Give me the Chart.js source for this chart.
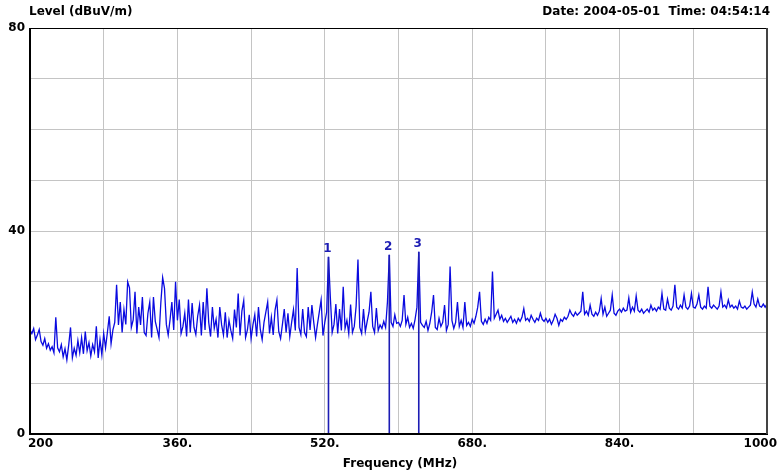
<!DOCTYPE html>
<html>
<head>
<meta charset="utf-8">
<script src="https://cdn.jsdelivr.net/npm/chart.js@4/dist/chart.umd.min.js"></script>
<style>
html,body{margin:0;padding:0;background:#fff;}
canvas{display:block;}
</style>
</head>
<body>
<canvas id="c" width="778" height="473"></canvas>
<script>
// Sweep definition (MHz)
const freqStart = 200;
const freqStep = 2;
// Measured level (dBuV/m), one value per 2 MHz from 200 to 1000 MHz
const levels = [
20.5,19.8,20.8,18.6,19.5,20.6,18.2,17.5,18.8,16.9,
17.8,16.5,17.2,16.0,23.0,17.0,16.2,17.6,15.2,16.8,
14.6,17.5,21.0,15.0,16.9,15.5,18.4,16.0,19.0,15.8,
20.2,16.4,18.0,15.4,17.6,16.2,21.2,15.0,18.6,15.6,
19.8,17.0,20.0,23.2,17.8,20.5,22.0,29.4,21.5,26.0,
20.0,24.5,21.6,30.0,28.8,21.0,22.5,28.0,19.8,25.0,
21.5,27.0,20.0,19.4,23.8,26.0,19.0,27.0,22.2,20.6,
19.0,25.8,30.8,28.7,21.6,19.5,22.5,26.0,20.5,30.0,
22.4,26.5,19.8,21.2,23.8,19.2,26.5,20.0,25.8,21.0,
19.6,23.2,25.4,19.4,26.0,20.5,28.7,22.0,19.2,25.0,
20.8,22.6,19.0,25.0,21.5,19.5,24.0,19.0,22.4,20.4,
18.8,24.5,21.0,27.7,19.4,24.2,26.3,19.0,20.5,23.5,
18.8,21.5,23.5,19.2,25.0,20.6,18.6,22.0,24.0,26.0,
19.8,23.0,19.5,24.4,26.4,20.2,18.8,21.6,24.6,20.0,
23.8,19.2,22.0,24.5,20.4,32.7,21.0,19.6,24.6,20.0,
19.2,25.0,20.5,25.4,22.0,19.0,21.6,24.0,26.4,19.4,
22.0,24.0,34.9,27.0,20.0,21.6,25.6,19.8,24.6,20.4,
29.0,20.8,22.4,19.8,25.5,20.0,21.2,25.2,34.4,21.0,
19.8,24.6,20.2,22.2,24.0,28.0,21.2,20.0,24.8,20.4,
21.5,20.8,22.2,21.0,26.0,35.3,22.0,21.2,23.5,21.8,
22.0,21.2,22.4,27.4,21.6,23.0,21.0,21.8,20.8,22.6,
25.0,35.9,22.0,21.4,21.0,22.2,20.4,21.8,24.0,27.4,
21.0,20.6,22.8,21.2,22.0,25.4,20.4,21.6,33.0,22.4,
20.8,22.0,26.0,21.2,22.4,21.0,26.0,21.4,22.0,21.2,
22.6,21.8,23.2,25.0,28.0,22.2,21.6,22.6,21.8,23.0,
22.4,32.0,22.8,23.6,24.4,22.6,23.4,22.2,22.8,22.0,
22.6,23.2,22.0,22.6,21.8,22.8,22.2,23.0,24.7,22.4,
22.8,22.2,23.4,22.6,22.0,22.8,22.4,23.8,22.6,22.2,
22.8,22.0,22.6,21.6,22.4,23.6,22.8,21.4,22.6,22.2,
23.0,22.6,23.2,24.4,23.6,23.2,24.0,23.4,23.8,24.2,
28.0,23.6,24.2,23.4,25.4,23.6,23.2,24.0,23.4,24.2,
26.7,23.6,25.0,23.2,23.8,24.4,27.4,23.8,23.4,24.2,
24.6,24.0,24.8,24.2,24.4,26.8,24.0,25.0,24.2,27.2,
24.4,24.0,24.6,23.8,24.2,24.6,24.0,25.4,24.4,24.8,
24.2,25.0,24.6,27.7,24.6,24.4,26.6,24.8,24.4,25.2,
29.4,25.0,24.6,25.4,24.8,27.4,25.0,24.6,25.2,27.7,
25.0,24.8,25.6,27.4,25.0,24.6,25.2,24.8,29.0,25.2,
24.8,25.4,25.0,24.6,25.2,28.0,25.0,25.4,24.8,26.4,
25.0,25.4,24.8,25.2,24.6,26.2,25.0,24.8,25.2,24.6,
25.0,25.4,28.0,25.6,25.0,26.6,25.2,25.0,25.6,25.0,
25.6
];
// Markers
const markerLabels = ["1","2","3"];
const markerFreqs = [524, 590, 622];
const markerLevels = [34.9, 35.3, 35.9];
// Axis tick labels
const xTickValues = [200, 360, 520, 680, 840, 1000];
const xTickLabels = ["200", "360.", "520.", "680.", "840.", "1000"];
const yTickValues = [0, 40, 80];
const yTickLabels = ["0", "40", "80"];
const yTitle = "Level (dBuV/m)";
const xTitle = "Frequency (MHz)";
const stamp = "Date: 2004-05-01  Time: 04:54:14";

const FONT = "bold 12px 'DejaVu Sans', Verdana, sans-serif";

const traceData = levels.map((v, i) => ({x: freqStart + i * freqStep, y: v}));
const markerSets = markerFreqs.map((f, k) => ({
  data: [{x: f, y: 0}, {x: f, y: markerLevels[k]}],
  borderColor: '#1c1cb4',
  borderWidth: 1.6,
  pointRadius: 0,
  tension: 0,
  order: 0
}));

const deco = {
  id: 'deco',
  beforeDraw(chart) {
    const ctx = chart.ctx;
    ctx.save();
    ctx.fillStyle = '#ffffff';
    ctx.fillRect(0, 0, chart.width, chart.height);
    ctx.restore();
  },
  afterDraw(chart) {
    const ctx = chart.ctx;
    const xs = chart.scales.x, ys = chart.scales.y;
    const a = chart.chartArea;
    ctx.save();
    // frame
    ctx.strokeStyle = '#000';
    ctx.lineWidth = 1;
    ctx.strokeRect(a.left + 0.5, a.top + 0.5, a.right - a.left, a.bottom - a.top);
    ctx.lineWidth = 2;
    ctx.beginPath();
    ctx.moveTo(a.left, a.top);
    ctx.lineTo(a.left, a.bottom);
    ctx.lineTo(a.right, a.bottom);
    ctx.stroke();
    ctx.strokeStyle = '#444';
    ctx.beginPath();
    ctx.moveTo(a.right, a.top);
    ctx.lineTo(a.right, a.bottom);
    ctx.stroke();

    ctx.font = FONT;
    ctx.fillStyle = '#000';
    // y tick labels
    ctx.textAlign = 'right';
    ctx.textBaseline = 'middle';
    yTickValues.forEach((v, i) => {
      ctx.fillText(yTickLabels[i], a.left - 5, ys.getPixelForValue(v));
    });
    // x tick labels
    ctx.textBaseline = 'top';
    xTickValues.forEach((v, i) => {
      const px = xs.getPixelForValue(v);
      if (i === 0) { ctx.textAlign = 'left'; ctx.fillText(xTickLabels[i], px - 2, a.bottom + 4); }
      else if (i === xTickValues.length - 1) { ctx.textAlign = 'right'; ctx.fillText(xTickLabels[i], px + 10, a.bottom + 4); }
      else { ctx.textAlign = 'center'; ctx.fillText(xTickLabels[i], px, a.bottom + 4); }
    });
    // titles
    ctx.textAlign = 'center';
    ctx.textBaseline = 'middle';
    ctx.fillText(xTitle, 400, a.bottom + 30);
    ctx.textAlign = 'left';
    ctx.fillText(yTitle, a.left - 1, 12);
    ctx.textAlign = 'right';
    ctx.fillText(stamp, 770, 12);
    // marker labels
    ctx.fillStyle = '#1c1cb4';
    ctx.textAlign = 'center';
    ctx.textBaseline = 'bottom';
    markerFreqs.forEach((f, k) => {
      ctx.fillText(markerLabels[k], xs.getPixelForValue(f) - 1, ys.getPixelForValue(markerLevels[k]) - 2);
    });
    ctx.restore();
  }
};

new Chart(document.getElementById('c'), {
  type: 'line',
  data: {
    datasets: [{
      data: traceData,
      borderColor: '#0a0ae0',
      borderWidth: 1.3,
      pointRadius: 0,
      tension: 0,
      order: 1
    }].concat(markerSets)
  },
  options: {
    responsive: false,
    animation: false,
    layout: {padding: {left: 30, right: 11, top: 28, bottom: 39}},
    plugins: {legend: {display: false}, tooltip: {enabled: false}},
    scales: {
      x: {
        type: 'linear', min: 200, max: 1000,
        ticks: {display: false, stepSize: 80},
        grid: {color: '#c4c4c4', lineWidth: 1, drawTicks: false},
        border: {display: false}
      },
      y: {
        type: 'linear', min: 0, max: 80,
        ticks: {display: false, stepSize: 10},
        grid: {color: '#c4c4c4', lineWidth: 1, drawTicks: false},
        border: {display: false}
      }
    }
  },
  plugins: [deco]
});
</script>
</body>
</html>
